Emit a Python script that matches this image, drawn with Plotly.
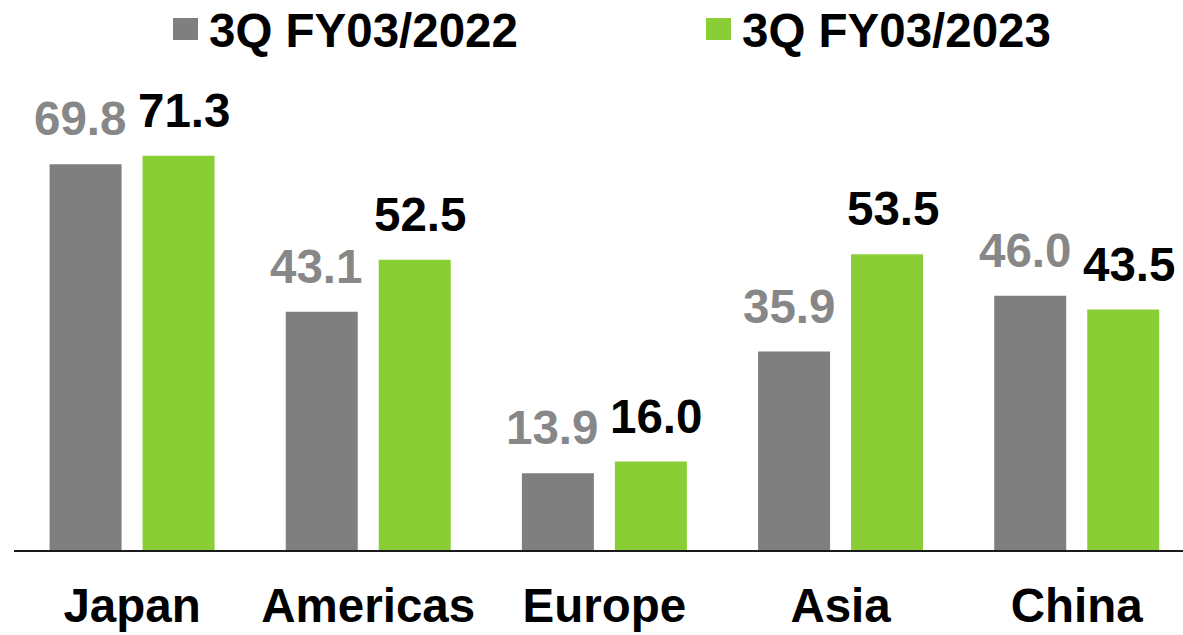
import plotly.graph_objects as go

categories = ["Japan", "Americas", "Europe", "Asia", "China"]
series_names = ["3Q FY03/2022", "3Q FY03/2023"]
fy2022 = [69.8, 43.1, 13.9, 35.9, 46.0]
fy2023 = [71.3, 52.5, 16.0, 53.5, 43.5]

GRAY = "#7f7f7f"
GRAY_LABEL = "#878787"
GREEN = "#8ace36"
FONT = "Arial, Liberation Sans, sans-serif"
FS = 47.5

W, H = 1183, 635
ML, MR, MT, MB = 14, 0, 100, 85
PW = W - ML - MR
PH = H - MT - MB

fig = go.Figure()
fig.add_trace(go.Bar(x=categories, y=fy2022, name=series_names[0],
                     marker=dict(color=GRAY, line=dict(width=0)), showlegend=False))
fig.add_trace(go.Bar(x=categories, y=fy2023, name=series_names[1],
                     marker=dict(color=GREEN, line=dict(width=0)), showlegend=False))

annotations = []
for cat, v in zip(categories, fy2022):
    annotations.append(dict(x=cat, y=v, xref="x", yref="y", text=f"{v:.1f}",
                            showarrow=False, xanchor="center", yanchor="bottom",
                            xshift=-52, yshift=17,
                            font=dict(family=FONT, size=FS, color=GRAY_LABEL, weight="bold")))
for cat, v in zip(categories, fy2023):
    annotations.append(dict(x=cat, y=v, xref="x", yref="y", text=f"{v:.1f}",
                            showarrow=False, xanchor="center", yanchor="bottom",
                            xshift=52, yshift=17,
                            font=dict(family=FONT, size=FS, color="black", weight="bold")))

# manual legend (large square symbols); positions given in page pixels
def px_x(px):
    return (px - ML) / PW

def px_y(py):
    return (MT + PH - py) / PH

legend_items = [(series_names[0], GRAY, 173, 207), (series_names[1], GREEN, 706, 740)]
shapes = []
for name, col, sq_x, tx in legend_items:
    shapes.append(dict(type="rect", xref="paper", yref="paper",
                       x0=px_x(sq_x), x1=px_x(sq_x + 25), y0=px_y(40), y1=px_y(18),
                       fillcolor=col, line=dict(width=0)))
    annotations.append(dict(x=px_x(tx), y=px_y(30), xref="paper", yref="paper",
                            text=name, showarrow=False, xanchor="left", yanchor="middle",
                            font=dict(family=FONT, size=FS, color="black", weight="bold")))

fig.update_layout(
    width=W, height=H,
    margin=dict(l=ML, r=MR, t=MT, b=MB),
    paper_bgcolor="white", plot_bgcolor="white",
    barmode="group", bargap=0.2124, bargroupgap=0.2258,
    showlegend=False,
    annotations=annotations, shapes=shapes,
    xaxis=dict(type="category", range=[-0.5, 4.45], showline=True, linecolor="#1a1a1a",
               linewidth=1.5, ticks="", showgrid=False, zeroline=False,
               tickfont=dict(family=FONT, size=FS, color="black", weight="bold"),
               ticklabelstandoff=13),
    yaxis=dict(range=[0, 81.4], visible=False, showgrid=False, zeroline=False),
)

fig.write_html("out.html", config={"displayModeBar": False},
               post_script="document.body.style.margin='0';document.body.style.overflow='hidden';")
